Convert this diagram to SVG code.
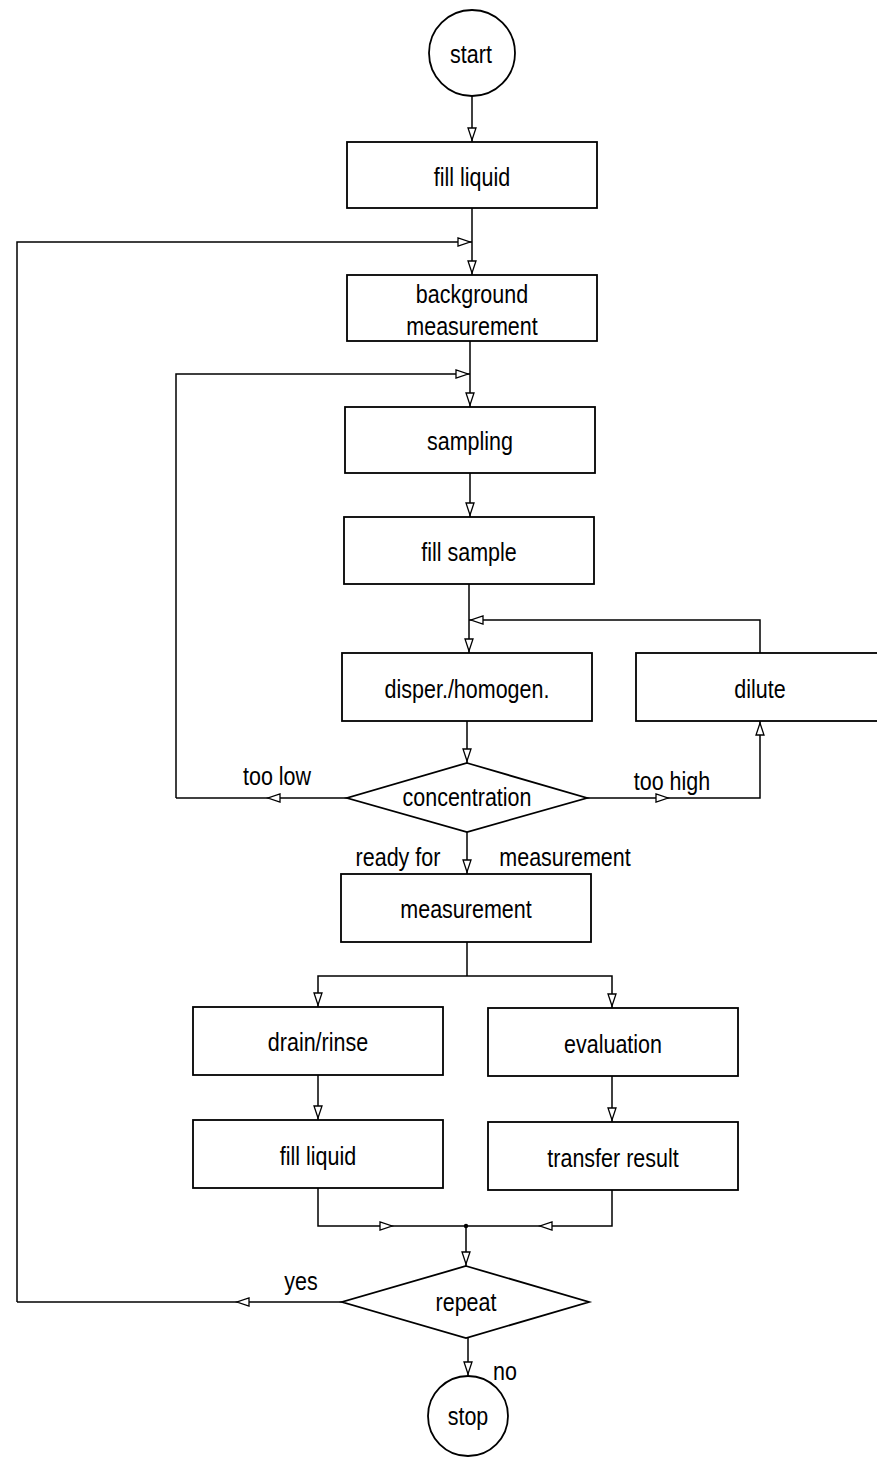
<svg xmlns="http://www.w3.org/2000/svg" xmlns:xlink="http://www.w3.org/1999/xlink" width="877" height="1459" viewBox="0 0 877 1459">
<style>
  .box{fill:#fff;stroke:#000;stroke-width:1.8}
  .ln{fill:none;stroke:#000;stroke-width:1.5}
  .ah{fill:#fff;stroke:#000;stroke-width:1.3}
  text{font-family:"Liberation Sans",Arial,sans-serif;font-size:25px;fill:#000;text-anchor:middle}
</style>
<defs>
  <path id="ah" d="M-4,-12 L4,-12 L0,0 Z"/>
</defs>
<rect width="877" height="1459" fill="#fff"/>
<g id="connectors">
  <path class="ln" d="M472,96 V142"/>
  <path class="ln" d="M472,208 V275"/>
  <path class="ln" d="M17,1302 V242 H472"/>
  <path class="ln" d="M470,341 V407"/>
  <path class="ln" d="M176,798 V374 H470"/>
  <path class="ln" d="M470,473 V517"/>
  <path class="ln" d="M469,584 V653"/>
  <path class="ln" d="M760,653 V620 H469"/>
  <path class="ln" d="M467,721 V763"/>
  <path class="ln" d="M347,798 H176"/>
  <path class="ln" d="M587,798 H760 V721"/>
  <path class="ln" d="M467,832 V874"/>
  <path class="ln" d="M467,942 V976"/>
  <path class="ln" d="M318,1007 V976 H612 V1008"/>
  <path class="ln" d="M318,1075 V1120"/>
  <path class="ln" d="M612,1076 V1122"/>
  <path class="ln" d="M318,1188 V1226 H612 V1190"/>
  <path class="ln" d="M466,1226 V1266"/>
  <path class="ln" d="M342,1302 H17"/>
  <path class="ln" d="M468,1338 V1376"/>
  <circle cx="466" cy="1226" r="2.2" fill="#000"/>
  <use xlink:href="#ah" class="ah" transform="translate(472,140)"/>
  <use xlink:href="#ah" class="ah" transform="translate(470,242) rotate(-90)"/>
  <use xlink:href="#ah" class="ah" transform="translate(472,273)"/>
  <use xlink:href="#ah" class="ah" transform="translate(468,374) rotate(-90)"/>
  <use xlink:href="#ah" class="ah" transform="translate(470,405)"/>
  <use xlink:href="#ah" class="ah" transform="translate(470,515)"/>
  <use xlink:href="#ah" class="ah" transform="translate(471,620) rotate(90)"/>
  <use xlink:href="#ah" class="ah" transform="translate(469,651)"/>
  <use xlink:href="#ah" class="ah" transform="translate(467,761)"/>
  <use xlink:href="#ah" class="ah" transform="translate(268,798) rotate(90)"/>
  <use xlink:href="#ah" class="ah" transform="translate(668,798) rotate(-90)"/>
  <use xlink:href="#ah" class="ah" transform="translate(760,723) rotate(180)"/>
  <use xlink:href="#ah" class="ah" transform="translate(467,872)"/>
  <use xlink:href="#ah" class="ah" transform="translate(318,1005)"/>
  <use xlink:href="#ah" class="ah" transform="translate(612,1006)"/>
  <use xlink:href="#ah" class="ah" transform="translate(318,1118)"/>
  <use xlink:href="#ah" class="ah" transform="translate(612,1120)"/>
  <use xlink:href="#ah" class="ah" transform="translate(392,1226) rotate(-90)"/>
  <use xlink:href="#ah" class="ah" transform="translate(540,1226) rotate(90)"/>
  <use xlink:href="#ah" class="ah" transform="translate(466,1264)"/>
  <use xlink:href="#ah" class="ah" transform="translate(237,1302) rotate(90)"/>
  <use xlink:href="#ah" class="ah" transform="translate(468,1374)"/>
  <text transform="translate(277,785) scale(0.86,1)">too low</text>
  <text transform="translate(672,790) scale(0.86,1)">too high</text>
  <text transform="translate(398,866) scale(0.86,1)">ready for</text>
  <text transform="translate(565,866) scale(0.86,1)">measurement</text>
  <text transform="translate(301,1290) scale(0.86,1)">yes</text>
  <text transform="translate(505,1380) scale(0.86,1)">no</text>
</g>
<g id="start"><circle class="box" cx="472" cy="53" r="43"/><text transform="translate(471,63) scale(0.86,1)">start</text></g>
<g id="fill-liquid-1"><rect class="box" x="347" y="142" width="250" height="66"/><text transform="translate(472,186) scale(0.86,1)">fill liquid</text></g>
<g id="background"><rect class="box" x="347" y="275" width="250" height="66"/><text transform="translate(472,303) scale(0.86,1)">background</text><text transform="translate(472,335) scale(0.86,1)">measurement</text></g>
<g id="sampling"><rect class="box" x="345" y="407" width="250" height="66"/><text transform="translate(470,450) scale(0.86,1)">sampling</text></g>
<g id="fill-sample"><rect class="box" x="344" y="517" width="250" height="67"/><text transform="translate(469,561) scale(0.86,1)">fill sample</text></g>
<g id="disper"><rect class="box" x="342" y="653" width="250" height="68"/><text transform="translate(467,698) scale(0.86,1)">disper./homogen.</text></g>
<g id="dilute"><rect class="box" x="636" y="653" width="260" height="68"/><text transform="translate(760,698) scale(0.86,1)">dilute</text></g>
<g id="concentration"><polygon class="box" points="467,763 587,798 467,832 347,798"/><text transform="translate(467,806) scale(0.86,1)">concentration</text></g>
<g id="measurement"><rect class="box" x="341" y="874" width="250" height="68"/><text transform="translate(466,918) scale(0.86,1)">measurement</text></g>
<g id="drain"><rect class="box" x="193" y="1007" width="250" height="68"/><text transform="translate(318,1051) scale(0.86,1)">drain/rinse</text></g>
<g id="evaluation"><rect class="box" x="488" y="1008" width="250" height="68"/><text transform="translate(613,1053) scale(0.86,1)">evaluation</text></g>
<g id="fill-liquid-2"><rect class="box" x="193" y="1120" width="250" height="68"/><text transform="translate(318,1165) scale(0.86,1)">fill liquid</text></g>
<g id="transfer"><rect class="box" x="488" y="1122" width="250" height="68"/><text transform="translate(613,1167) scale(0.86,1)">transfer result</text></g>
<g id="repeat"><polygon class="box" points="466,1266 589,1302 466,1338 342,1302"/><text transform="translate(466,1311) scale(0.86,1)">repeat</text></g>
<g id="stop"><circle class="box" cx="468" cy="1416" r="40"/><text transform="translate(468,1425) scale(0.86,1)">stop</text></g>
</svg>
